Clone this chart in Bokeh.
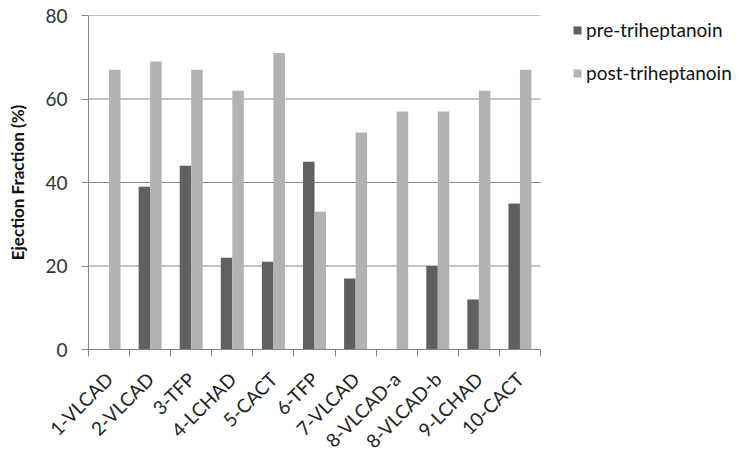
import math
from bokeh.plotting import figure
from bokeh.models import (Range1d, FixedTicker, ColumnDataSource, Legend, LegendItem)
from bokeh.transform import dodge
from bokeh.embed import file_html
from bokeh.resources import INLINE

categories = ["1-VLCAD", "2-VLCAD", "3-TFP", "4-LCHAD", "5-CACT", "6-TFP",
              "7-VLCAD", "8-VLCAD-a", "8-VLCAD-b", "9-LCHAD", "10-CACT"]
pre = [float("nan"), 39, 44, 22, 21, 45, 17, float("nan"), 20, 12, 35]
post = [67, 69, 67, 62, 71, 33, 52, 57, 57, 62, 67]
y_ticks = [0, 20, 40, 60, 80]

FONT = "Lato"
GRAY = "#868686"
DARK = "#606060"
LIGHT = "#b2b2b2"

n = len(categories)
PLOT_W = 452      # width of the bar area in px
FRAME_W = 662     # frame extends to the right edge so the legend fits inside
xs = [i + 0.5 for i in range(n)]
src = ColumnDataSource(dict(x=xs, pre=pre, post=post))

p = figure(width=750, height=452, output_backend="svg", toolbar_location=None,
           x_range=Range1d(0, n * FRAME_W / PLOT_W), y_range=Range1d(0, 80),
           frame_width=FRAME_W, frame_height=334,
           min_border_left=88, min_border_top=15, min_border_right=0,
           min_border_bottom=103)
p.outline_line_color = None
p.xgrid.grid_line_color = None
p.ygrid.grid_line_color = None

# horizontal gridlines limited to the category span
p.segment(x0=0, x1=n, y0=y_ticks, y1=y_ticks, line_color=GRAY, line_width=1)

r1 = p.vbar(x=dodge("x", -0.14, range=p.x_range), top="pre", width=0.28,
            source=src, fill_color=DARK, line_color=None)
r2 = p.vbar(x=dodge("x", 0.14, range=p.x_range), top="post", width=0.28,
            source=src, fill_color=LIGHT, line_color=None)

# x axis
xa = p.xaxis[0]
xa.bounds = (0, n)
xa.ticker = FixedTicker(ticks=xs, minor_ticks=list(range(n + 1)))
xa.major_label_overrides = {x: c for x, c in zip(xs, categories)}
xa.major_label_orientation = math.pi / 4
xa.major_tick_out = 0
xa.major_tick_in = 0
xa.minor_tick_out = 7
xa.minor_tick_in = 0
xa.minor_tick_line_color = GRAY
xa.axis_line_color = GRAY
xa.major_label_text_font = FONT
xa.major_label_text_font_size = "19px"
xa.major_label_text_color = "#222222"
xa.major_label_standoff = 19

# y axis
ya = p.yaxis[0]
ya.ticker = FixedTicker(ticks=y_ticks)
ya.minor_tick_line_color = None
ya.major_tick_out = 7
ya.major_tick_in = 0
ya.major_tick_line_color = GRAY
ya.axis_line_color = GRAY
ya.major_label_text_font = FONT
ya.major_label_text_font_size = "19px"
ya.major_label_text_color = "#333333"
ya.major_label_standoff = 14
ya.axis_label = "Ejection Fraction (%)"
ya.axis_label_text_font = FONT
ya.axis_label_text_font_style = "bold"
ya.axis_label_text_font_size = "17px"
ya.axis_label_text_color = "#111111"
ya.axis_label_standoff = 14

legend = Legend(items=[LegendItem(label="pre-triheptanoin", renderers=[r1]),
                       LegendItem(label="post-triheptanoin", renderers=[r2])],
                location=(484, 265))
legend.border_line_color = None
legend.background_fill_alpha = 0
legend.padding = 0
legend.margin = 0
legend.glyph_width = 10
legend.glyph_height = 10
legend.label_height = 20
legend.spacing = 20
legend.label_standoff = 4
legend.label_text_font = FONT
legend.label_text_font_size = "19px"
legend.label_text_color = "#111111"
p.add_layout(legend)

open("out.html", "w").write(file_html(p, INLINE))
